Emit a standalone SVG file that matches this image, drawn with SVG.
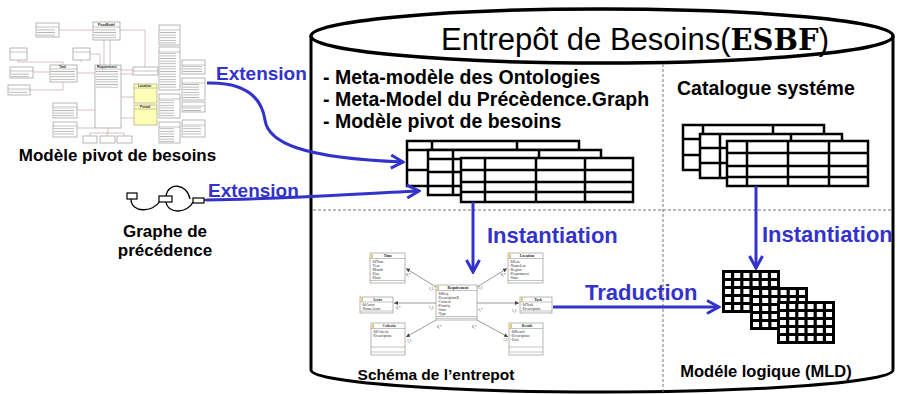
<svg xmlns="http://www.w3.org/2000/svg" width="897" height="394" viewBox="0 0 897 394">
<style>
.t{font-family:"Liberation Sans",Arial,sans-serif;font-weight:bold;fill:#000}
.title{font-family:"Liberation Sans",Arial,sans-serif;font-weight:normal;fill:#000}
.blue{fill:#3333cc}
.arr{stroke:#3333cc;stroke-width:3;fill:none;marker-end:url(#ah)}
.tbl{fill:#fff;stroke:#000;stroke-width:2.5}
.tl{stroke:#000;stroke-width:2.5;fill:none}
.dash{stroke:#777;stroke-width:1;stroke-dasharray:3 2;fill:none}
.ub{fill:#fff;stroke:#888;stroke-width:0.6}
.uy{fill:#ffffb8;stroke:#999966;stroke-width:0.6}
.ux{fill:url(#txt);stroke:none}
.uc{stroke:#b08080;stroke-width:0.5;fill:none}
.ut{font-family:"Liberation Sans",Arial,sans-serif;font-size:3.2px;font-weight:bold;fill:#222}
.sb{fill:#fff;stroke:#888;stroke-width:0.6}
.sl{stroke:#888;stroke-width:0.5;fill:none}
.st{font-family:"Liberation Serif",serif;font-size:3.8px;fill:#333}
.sh{font-family:"Liberation Serif",serif;font-size:3.8px;font-weight:bold;fill:#222;text-anchor:middle}
.ic{fill:#e8c040}
.sc{stroke:#555;stroke-width:0.6;fill:none;marker-end:url(#sa)}
.gb{fill:#fff;stroke:#000;stroke-width:1.2}
.gl{stroke:#000;stroke-width:1.3;fill:none}
</style>
<defs>
<marker id="ah" markerUnits="userSpaceOnUse" markerWidth="16" markerHeight="16" viewBox="0 0 16 16" refX="14" refY="8" orient="auto">
<path d="M2,1.5 L14,8 L2,14.5" fill="none" stroke="#3333cc" stroke-width="3"/>
</marker>
<marker id="sa" markerUnits="userSpaceOnUse" markerWidth="4" markerHeight="4" viewBox="0 0 4 4" refX="4" refY="2" orient="auto">
<path d="M0,0 L4,2 L0,4 z" fill="#444"/>
</marker>
<pattern id="txt" width="20" height="2.6" patternUnits="userSpaceOnUse">
<rect x="0" y="0.9" width="20" height="0.9" fill="#b4b4b4"/>
</pattern>
<g id="grid">
<rect x="0" y="0" width="58" height="43" fill="#000"/>
<g fill="#fff">
<rect x="3" y="3" width="6" height="5"/><rect x="12.2" y="3" width="6" height="5"/><rect x="21.4" y="3" width="6" height="5"/><rect x="30.6" y="3" width="6" height="5"/><rect x="39.8" y="3" width="6" height="5"/><rect x="49" y="3" width="6" height="5"/>
<rect x="3" y="11" width="6" height="5"/><rect x="12.2" y="11" width="6" height="5"/><rect x="21.4" y="11" width="6" height="5"/><rect x="30.6" y="11" width="6" height="5"/><rect x="39.8" y="11" width="6" height="5"/><rect x="49" y="11" width="6" height="5"/>
<rect x="3" y="19" width="6" height="5"/><rect x="12.2" y="19" width="6" height="5"/><rect x="21.4" y="19" width="6" height="5"/><rect x="30.6" y="19" width="6" height="5"/><rect x="39.8" y="19" width="6" height="5"/><rect x="49" y="19" width="6" height="5"/>
<rect x="3" y="27" width="6" height="5"/><rect x="12.2" y="27" width="6" height="5"/><rect x="21.4" y="27" width="6" height="5"/><rect x="30.6" y="27" width="6" height="5"/><rect x="39.8" y="27" width="6" height="5"/><rect x="49" y="27" width="6" height="5"/>
<rect x="3" y="35" width="6" height="5"/><rect x="12.2" y="35" width="6" height="5"/><rect x="21.4" y="35" width="6" height="5"/><rect x="30.6" y="35" width="6" height="5"/><rect x="39.8" y="35" width="6" height="5"/><rect x="49" y="35" width="6" height="5"/>
</g>
</g>
</defs>
<rect width="897" height="394" fill="#fff"/>

<!-- Cylinder (Entrepôt) -->
<g id="entrepot">
<path d="M311,36 L311,370 A291,22 0 0 0 893,370 L893,36" fill="#fff" stroke="#000" stroke-width="3"/>
<ellipse cx="602" cy="36" rx="291" ry="27" fill="#fff" stroke="#000" stroke-width="3.5"/>
<text class="title" x="441" y="50" font-size="31">Entrepôt de Besoins(<tspan font-family="'DejaVu Serif',serif" font-weight="bold" font-size="29">ESBF</tspan>)</text>
<path class="dash" d="M313,210 H891 M663,64 V392"/>
</g>

<!-- Top-left: Modèle pivot de besoins -->
<g id="modele-pivot">
<g>
<path class="uc" d="M59,30 H93 M104,40 V65 M110,40 V65 M18,60 V62 H63 V65 M33,72 H50 M30,90 H63 V82 M77,73 H95 M90,54 H100 V65 M121,70 H133 M121,74 H133 M145,67 V30 H120 M121,97 H134 M121,118 H134 M77,110 H95 M77,128 H95 M108,128 V133 M90,133 H124 M90,133 V136 M107,133 V136 M124,133 V136 M81,60 V62"/>
</g>
<rect class="ub" x="36" y="23" width="23" height="14"/><rect class="ux" x="37" y="28" width="18" height="8"/><path class="sl" d="M36,27 H59"/>
<rect class="ub" x="93" y="22" width="27" height="18"/><path class="sl" d="M93,27 H120"/><rect class="ux" x="94" y="28" width="22" height="11"/><text class="ut" x="98" y="26">PivotModel</text>
<rect class="ub" x="10" y="48" width="17" height="12"/><path class="sl" d="M10,52 H27"/>
<rect class="ub" x="73" y="48" width="17" height="12"/><path class="sl" d="M73,52 H90"/>
<rect class="ub" x="50" y="65" width="27" height="17"/><path class="sl" d="M50,69 H77"/><rect class="ux" x="51" y="70" width="24" height="11"/><text class="ut" x="59" y="68.2">Task</text>
<rect class="ub" x="10" y="67" width="23" height="11"/><path class="sl" d="M10,71 H33"/><rect class="ux" x="11" y="72" width="18" height="5"/>
<rect class="ub" x="8" y="85" width="22" height="10"/><path class="sl" d="M8,89 H30"/><rect class="ux" x="9" y="90" width="18" height="4"/>
<rect class="ub" x="95" y="65" width="26" height="63"/><path class="sl" d="M95,69 H121"/><rect class="ux" x="96" y="70" width="22" height="19"/><text class="ut" x="97" y="68.2">Requirement</text>
<rect class="ub" x="133" y="67" width="25" height="8"/><path class="sl" d="M133,71 H158"/>
<rect class="uy" x="134" y="84" width="23" height="19"/><path class="sl" d="M134,88 H157"/><text class="ut" x="138" y="87.2">Location</text>
<rect class="uy" x="134" y="105" width="23" height="20"/><path class="sl" d="M134,109 H157"/><text class="ut" x="140" y="108.2">Period</text>
<rect class="ub" x="53" y="103" width="24" height="15"/><path class="sl" d="M53,107 H77"/><rect class="ux" x="54" y="108" width="20" height="9"/>
<rect class="ub" x="53" y="122" width="24" height="15"/><path class="sl" d="M53,126 H77"/><rect class="ux" x="54" y="127" width="20" height="9"/>
<rect class="ub" x="83" y="136" width="14" height="7"/><rect class="ub" x="100" y="136" width="15" height="7"/><rect class="ub" x="117" y="136" width="15" height="7"/>
<rect class="ub" x="159" y="25" width="21" height="20"/><path class="sl" d="M159,30 H180"/><rect class="ux" x="160" y="31" width="16" height="13"/>
<rect class="ub" x="159" y="47" width="21" height="43"/><path class="sl" d="M159,52 H180"/><rect class="ux" x="160" y="53" width="16" height="36"/>
<rect class="ub" x="159" y="94" width="21" height="24"/><path class="sl" d="M159,99 H180"/><rect class="ux" x="160" y="100" width="14" height="17"/>
<rect class="ub" x="159" y="122" width="21" height="21"/><path class="sl" d="M159,127 H180"/><rect class="ux" x="160" y="128" width="14" height="14"/>
<rect class="ub" x="182" y="60" width="23" height="14"/><path class="sl" d="M182,65 H205"/><rect class="ux" x="183" y="66" width="19" height="7"/>
<rect class="ub" x="182" y="78" width="23" height="22"/><path class="sl" d="M182,83 H205"/><rect class="ux" x="183" y="84" width="16" height="15"/>
<rect class="ub" x="182" y="102" width="23" height="10"/><path class="sl" d="M182,106 H205"/><rect class="ux" x="183" y="107" width="18" height="4"/>
<rect class="ub" x="182" y="120" width="23" height="17"/><path class="sl" d="M182,125 H205"/><rect class="ux" x="183" y="126" width="18" height="10"/>
<text class="t" x="117.5" y="161" font-size="17" text-anchor="middle">Modèle pivot de besoins</text>
</g>

<!-- Graphe de précédence -->
<g id="graphe">
<path class="gl" d="M131,199 C131,213 153,213 160,201 M166,196 C168,182 187,183 190,199 M166,202 C168,215 188,213 193,202 M204,200 H208"/>
<rect class="gb" x="127" y="193" width="10" height="6"/>
<rect class="gb" x="159" y="196" width="13" height="6"/>
<rect class="gb" x="193" y="198" width="11" height="5"/>
<text class="t" x="165" y="237" font-size="17" text-anchor="middle">Graphe de</text>
<text class="t" x="165" y="256" font-size="17" text-anchor="middle">précédence</text>
</g>

<!-- Meta-modèles -->
<g id="meta-modeles">
<text class="t" x="323" y="84" font-size="19.5">- Meta-modèle des Ontologies</text>
<text class="t" x="323" y="106" font-size="19.5">- Meta-Model du Précèdence.Graph</text>
<text class="t" x="323" y="128" font-size="19.5">- Modèle pivot de besoins</text>
<rect class="tbl" x="407" y="141" width="172" height="45"/>
<path class="tl" d="M432,141 V186 M517,141 V186 M407,150 H579 M407,170 H579"/>
<rect class="tbl" x="428" y="150" width="173" height="45"/>
<path class="tl" d="M453,150 V195 M539,150 V195 M428,159 H601 M428,172 H601 M428,186 H601"/>
<rect class="tbl" x="461" y="158" width="172" height="44"/>
<path class="tl" d="M485,158 V202 M536,158 V202 M585,158 V202 M461,170 H633 M461,182 H633 M461,192 H633"/>
</g>

<!-- Catalogue système -->
<g id="catalogue">
<text class="t" x="677" y="95" font-size="19.5">Catalogue systéme</text>
<rect class="tbl" x="683" y="125" width="141" height="45"/>
<path class="tl" d="M703,125 V170 M773,125 V170 M683,139 H824 M683,155 H824"/>
<rect class="tbl" x="700" y="134" width="142" height="44"/>
<path class="tl" d="M720,134 V178 M791,134 V178 M700,148 H842 M700,163 H842"/>
<rect class="tbl" x="727" y="141" width="141" height="45"/>
<path class="tl" d="M747,141 V186 M788,141 V186 M829,141 V186 M727,153 H868 M727,166 H868 M727,177 H868"/>
</g>

<!-- Schéma de l'entrepot -->
<g id="schema">
<path class="sc" d="M436,287 L406,268.5"/>
<path class="sc" d="M477,287 L507,268.5"/>
<path class="sc" d="M436,303 L394,303"/>
<path class="sc" d="M477,303 L519,303"/>
<path class="sc" d="M436,320 L406,337"/>
<path class="sc" d="M477,320 L508,337"/>
<g>
<rect class="sb" x="370" y="253" width="35" height="30"/><path class="sl" d="M370,258.5 H405 M370,280.5 H405"/><rect class="ic" x="371.2" y="254" width="1.6" height="4"/>
<text class="sh" x="388" y="257.3">Time</text>
<text class="st" x="371.5" y="262.5">-IdTime</text><text class="st" x="371.5" y="266.5">-Year</text><text class="st" x="371.5" y="270.5">-Month</text><text class="st" x="371.5" y="274.5">-Day</text><text class="st" x="371.5" y="278.5">-Hour</text>
</g>
<g>
<rect class="sb" x="508" y="253" width="35" height="30"/><path class="sl" d="M508,258.5 H543 M508,280.5 H543"/><rect class="ic" x="509.2" y="254" width="1.6" height="4"/>
<text class="sh" x="527" y="257.3">Location</text>
<text class="st" x="509.5" y="262.5">-IdLoc</text><text class="st" x="509.5" y="266.5">-NameLoc</text><text class="st" x="509.5" y="270.5">-Region</text><text class="st" x="509.5" y="274.5">-Department</text><text class="st" x="509.5" y="278.5">-State</text>
</g>
<g>
<rect class="sb" x="436" y="285" width="41" height="35"/><path class="sl" d="M436,290.5 H477 M436,316.5 H477 M436,318.3 H477"/><rect class="ic" x="437.2" y="286" width="1.6" height="4"/>
<text class="sh" x="458" y="289.3">Requirement</text>
<text class="st" x="437.5" y="294.5">-IdReq</text><text class="st" x="437.5" y="298.5">-DescriptionR</text><text class="st" x="437.5" y="302.5">-Context</text><text class="st" x="437.5" y="306.5">-Priority</text><text class="st" x="437.5" y="310.5">-State</text><text class="st" x="437.5" y="314.5">-Type</text>
</g>
<g>
<rect class="sb" x="360" y="297" width="33" height="16"/><path class="sl" d="M360,302 H393 M360,311 H393"/><rect class="ic" x="361.2" y="297.6" width="1.6" height="4"/>
<text class="sh" x="377.5" y="300.9">Actor</text>
<text class="st" x="361.5" y="305.5">-IdActor</text><text class="st" x="361.5" y="309.5">-NameActor</text>
</g>
<g>
<rect class="sb" x="520" y="297" width="32" height="16"/><path class="sl" d="M520,302 H552 M520,311 H552"/><rect class="ic" x="521.2" y="297.6" width="1.6" height="4"/>
<text class="sh" x="538" y="300.9">Task</text>
<text class="st" x="521.5" y="305.5">-IdTask</text><text class="st" x="521.5" y="309.5">-Description</text>
</g>
<g>
<rect class="sb" x="371" y="323" width="34" height="32"/><path class="sl" d="M371,328.5 H405 M371,347 H405 M371,352 H405"/><rect class="ic" x="372.2" y="324" width="1.6" height="4"/>
<text class="sh" x="389" y="327.3">Criteria</text>
<text class="st" x="372.5" y="332.5">-IdCriteria</text><text class="st" x="372.5" y="336.5">-Description</text>
</g>
<g>
<rect class="sb" x="509" y="323" width="34" height="32"/><path class="sl" d="M509,328.5 H543 M509,347 H543 M509,352 H543"/><rect class="ic" x="510.2" y="324" width="1.6" height="4"/>
<text class="sh" x="527" y="327.3">Result</text>
<text class="st" x="510.5" y="332.5">-IdResult</text><text class="st" x="510.5" y="336.5">-Description</text><text class="st" x="510.5" y="340.5">-Unit</text>
</g>
<text class="st" x="406" y="276">0,*</text><text class="st" x="429" y="290">1,1</text>
<text class="st" x="396" y="309">0,*</text><text class="st" x="429" y="309">1,1</text>
<text class="st" x="407" y="342">1,1</text><text class="st" x="437" y="328">0,*</text>
<text class="st" x="501" y="276">0,*</text><text class="st" x="478" y="289">1,1</text>
<text class="st" x="478" y="311">1,*</text><text class="st" x="512" y="312">1,1</text>
<text class="st" x="472" y="328">0,*</text><text class="st" x="503" y="341">1,1</text>
<text class="t" x="436" y="380" font-size="15.5" text-anchor="middle">Schéma de l’entrepot</text>
</g>

<!-- Modèle logique -->
<g id="mld">
<use href="#grid" x="722" y="270"/>
<use href="#grid" x="750" y="287"/>
<use href="#grid" x="777" y="301"/>
<text class="t" x="766" y="377" font-size="16.5" text-anchor="middle">Modéle logique (MLD)</text>
</g>

<!-- Connectors -->
<g id="connectors">
<path class="arr" d="M207,83 C248,82 262,100 265,120 C268,142 300,158 403,162"/>
<path class="arr" d="M206,200 C290,199 350,194 419,191"/>
<path class="arr" d="M473,202 V272"/>
<path class="arr" d="M756,186 V268"/>
<path class="arr" d="M553,307 H719"/>
<text class="t blue" x="216" y="80" font-size="19">Extension</text>
<text class="t blue" x="208" y="197" font-size="19">Extension</text>
<text class="t blue" x="487" y="243" font-size="22">Instantiation</text>
<text class="t blue" x="762" y="242" font-size="22">Instantiation</text>
<text class="t blue" x="585" y="300" font-size="22">Traduction</text>
</g>
</svg>
